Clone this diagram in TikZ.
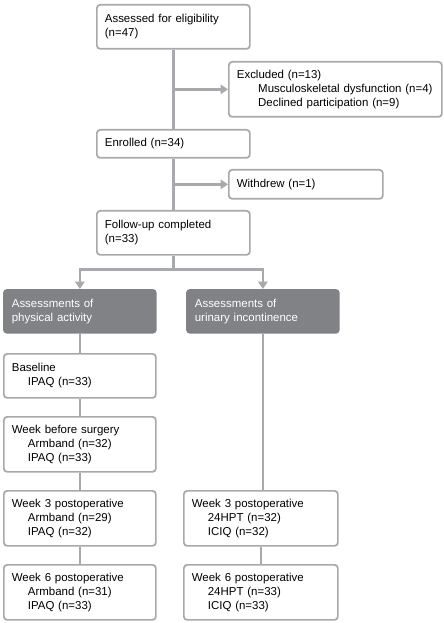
\documentclass[tikz,border=0pt]{standalone}
\usepackage{fontspec}
\setmainfont{Liberation Sans}
\usetikzlibrary{arrows.meta}
\definecolor{linegray}{HTML}{A7A9AC}
\definecolor{darkbox}{HTML}{808285}
\newcommand{\indnt}{\hspace*{12pt}}
\tikzset{
  box/.style={draw=linegray, line width=1.3pt, rounded corners=2.5pt, fill=white,
    anchor=north west, align=left, inner xsep=6pt, inner ysep=0pt,
    font=\fontsize{8.6pt}{10.5pt}\selectfont},
  greybox/.style={box, draw=darkbox, fill=darkbox, text=white},
  conn/.style={draw=linegray, line width=2pt},
  arr/.style={conn, -{Triangle[width=7pt,length=5.5pt]}},
}
\begin{document}
\begin{tikzpicture}[x=0.75pt, y=-0.75pt]
  \useasboundingbox (0,0) rectangle (443,623);
  % enrolment
  \node[box, text width=102.75pt, minimum height=33pt] (elig) at (96,4) {Assessed for eligibility\\(n=47)};
  \node[box, text width=147.75pt, minimum height=41.25pt] (excl) at (228,61)
    {Excluded (n=13)\\\hspace*{16pt}Musculoskeletal dysfunction (n=4)\\\hspace*{16pt}Declined participation (n=9)};
  \node[box, text width=102.75pt, minimum height=21pt] (enr) at (96,129) {Enrolled (n=34)};
  \node[box, text width=103.5pt, minimum height=21.75pt] (wd) at (228,169) {Withdrew (n=1)};
  \node[box, text width=102.75pt, minimum height=33pt] (fu) at (96,210) {Follow-up completed\\(n=33)};
  % two arms
  \node[greybox, text width=102pt, minimum height=32.25pt] (pa) at (3,289) {Assessments of\\physical activity};
  \node[greybox, text width=102pt, minimum height=32.25pt] (ui) at (186,289) {Assessments of\\urinary incontinence};
  \node[box, text width=102pt, minimum height=33pt] (base) at (3,353) {Baseline\\\indnt IPAQ (n=33)};
  \node[box, text width=102pt, minimum height=41.25pt] (wbs) at (3,416) {Week before surgery\\\indnt Armband (n=32)\\\indnt IPAQ (n=33)};
  \node[box, text width=102pt, minimum height=41.25pt] (w3l) at (3,490) {Week 3 postoperative\\\indnt Armband (n=29)\\\indnt IPAQ (n=32)};
  \node[box, text width=102pt, minimum height=41.25pt] (w6l) at (3,564) {Week 6 postoperative\\\indnt Armband (n=31)\\\indnt IPAQ (n=33)};
  \node[box, text width=103.5pt, minimum height=41.25pt] (w3r) at (183,490) {Week 3 postoperative\\\indnt 24HPT (n=32)\\\indnt ICIQ (n=32)};
  \node[box, text width=103.5pt, minimum height=41.25pt] (w6r) at (183,564) {Week 6 postoperative\\\indnt 24HPT (n=33)\\\indnt ICIQ (n=33)};
  % connectors
  \draw[conn] (elig) -- (enr);
  \draw[arr] (elig.south |- excl.west) -- (excl.west);
  \draw[conn] (enr) -- (fu);
  \draw[arr] (enr.south |- wd.west) -- (wd.west);
  \draw[conn] (fu.south) -- ++(0,14) coordinate (split);
  \draw[arr] (split) -| (pa.north);
  \draw[arr] (split) -| (ui.north);
  \draw[conn] (pa) -- (base);
  \draw[conn] (base) -- (wbs);
  \draw[conn] (wbs) -- (w3l);
  \draw[conn] (w3l) -- (w6l);
  \draw[conn] (ui.south) -- (ui.south |- w3r.north);
  \draw[conn] (w3r) -- (w6r);
\end{tikzpicture}
\end{document}
